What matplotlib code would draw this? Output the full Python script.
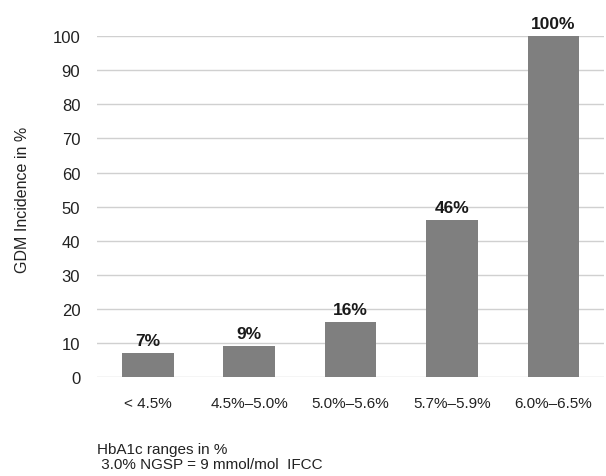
import matplotlib
matplotlib.use("Agg")
import matplotlib.pyplot as plt

# HbA1c ranges and GDM incidence
categories = ["< 4.5%", "4.5%\u20135.0%", "5.0%\u20135.6%", "5.7%\u20135.9%", "6.0%\u20136.5%"]
incidence = [7, 9, 16, 46, 100]
value_labels = ["7%", "9%", "16%", "46%", "100%"]
yticks = [0, 10, 20, 30, 40, 50, 60, 70, 80, 90, 100]

plt.rcParams["font.family"] = ["Liberation Sans", "DejaVu Sans"]

fig = plt.figure(figsize=(6.06, 4.77), dpi=100)
ax = fig.add_axes([0.160, 0.2075, 0.837, 0.7145])

x = range(len(categories))
bars = ax.bar(x, incidence, width=0.51, color="#7f7f7f", zorder=3)

for b, lab in zip(bars, value_labels):
    ax.text(b.get_x() + b.get_width() / 2, b.get_height() + 1.5, lab,
            ha="center", va="bottom", fontsize=12.5, fontweight="bold", color="#1a1a1a")

ax.set_xlim(-0.5, len(categories) - 0.5)
ax.set_ylim(0, 100)
ax.set_yticks(yticks)
ax.set_xticks(list(x))
ax.set_xticklabels(categories, fontsize=11, color="#222222")
ax.tick_params(axis="y", labelsize=12, colors="#222222", length=0, pad=12)
ax.tick_params(axis="x", length=0, pad=14)
ax.yaxis.grid(True, color="#d0d0d0", linewidth=1, zorder=0)
for s in ax.spines.values():
    s.set_visible(False)

fig.text(0.037, 0.58, "GDM Incidence in %", rotation=90, ha="center", va="center",
         fontsize=11.5, color="#222222")
fig.text(0.160, 0.072, "HbA1c ranges in %\n 3.0% NGSP = 9 mmol/mol  IFCC",
         ha="left", va="top", fontsize=11, color="#222222", linespacing=1.15)

fig.savefig("out.png", dpi=100)
